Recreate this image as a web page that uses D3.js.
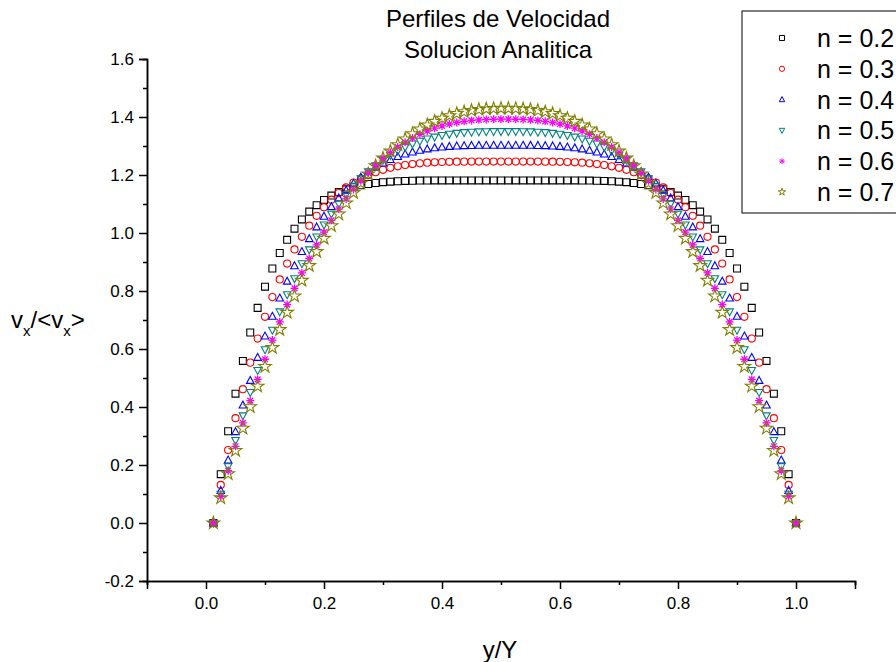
<!DOCTYPE html>
<html>
<head>
<meta charset="utf-8">
<script src="https://cdn.jsdelivr.net/npm/d3@7"></script>
<style>
  body { margin: 0; background: #fff; }
  text { font-family: Arial, "Liberation Sans", sans-serif; fill: #000; }
</style>
</head>
<body>
<div id="chart"></div>
<script>
// x positions (y/Y)
var xVals = [0.0125, 0.025, 0.0375, 0.05, 0.0625, 0.075, 0.0875, 0.1, 0.1125, 0.125,
    0.1375, 0.15, 0.1625, 0.175, 0.1875, 0.2, 0.2125, 0.225, 0.2375, 0.25,
    0.2625, 0.275, 0.2875, 0.3, 0.3125, 0.325, 0.3375, 0.35, 0.3625, 0.375,
    0.3875, 0.4, 0.4125, 0.425, 0.4375, 0.45, 0.4625, 0.475, 0.4875, 0.5,
    0.5125, 0.525, 0.5375, 0.55, 0.5625, 0.575, 0.5875, 0.6, 0.6125, 0.625,
    0.6375, 0.65, 0.6625, 0.675, 0.6875, 0.7, 0.7125, 0.725, 0.7375, 0.75,
    0.7625, 0.775, 0.7875, 0.8, 0.8125, 0.825, 0.8375, 0.85, 0.8625, 0.875,
    0.8875, 0.9, 0.9125, 0.925, 0.9375, 0.95, 0.9625, 0.975, 0.9875, 1.0];

// vx/<vx> for each n
var v02 = [0, 0.1685, 0.3164, 0.4459, 0.5589, 0.6569, 0.7418, 0.8149, 0.8776, 0.9310,
    0.9764, 1.0148, 1.0469, 1.0737, 1.0959, 1.1142, 1.1290, 1.1411, 1.1507, 1.1584,
    1.1643, 1.1690, 1.1725, 1.1752, 1.1771, 1.1785, 1.1796, 1.1802, 1.1807, 1.1810,
    1.1812, 1.1813, 1.1814, 1.1814, 1.1814, 1.1814, 1.1814, 1.1814, 1.1814, 1.1814,
    1.1814, 1.1814, 1.1814, 1.1814, 1.1814, 1.1814, 1.1814, 1.1814, 1.1813, 1.1812,
    1.1810, 1.1807, 1.1802, 1.1796, 1.1785, 1.1771, 1.1752, 1.1725, 1.1690, 1.1643,
    1.1584, 1.1507, 1.1411, 1.1290, 1.1142, 1.0959, 1.0737, 1.0469, 1.0148, 0.9764,
    0.9310, 0.8776, 0.8149, 0.7418, 0.6569, 0.5589, 0.4459, 0.3164, 0.1685, 0];
var v03 = [0, 0.1311, 0.2513, 0.3613, 0.4616, 0.5530, 0.6360, 0.7111, 0.7789, 0.8399,
    0.8945, 0.9434, 0.9868, 1.0253, 1.0593, 1.0890, 1.1150, 1.1376, 1.1570, 1.1737,
    1.1878, 1.1998, 1.2098, 1.2180, 1.2247, 1.2301, 1.2345, 1.2378, 1.2404, 1.2424,
    1.2438, 1.2448, 1.2454, 1.2458, 1.2461, 1.2462, 1.2463, 1.2463, 1.2463, 1.2463,
    1.2463, 1.2463, 1.2463, 1.2463, 1.2462, 1.2461, 1.2458, 1.2454, 1.2448, 1.2438,
    1.2424, 1.2404, 1.2378, 1.2345, 1.2301, 1.2247, 1.2180, 1.2098, 1.1998, 1.1878,
    1.1737, 1.1570, 1.1376, 1.1150, 1.0890, 1.0593, 1.0253, 0.9868, 0.9434, 0.8945,
    0.8399, 0.7789, 0.7111, 0.6360, 0.5530, 0.4616, 0.3613, 0.2513, 0.1311, 0];
var v04 = [0, 0.1118, 0.2165, 0.3145, 0.4060, 0.4912, 0.5706, 0.6442, 0.7123, 0.7753,
    0.8333, 0.8866, 0.9354, 0.9800, 1.0205, 1.0573, 1.0905, 1.1204, 1.1471, 1.1709,
    1.1919, 1.2105, 1.2266, 1.2407, 1.2527, 1.2630, 1.2716, 1.2788, 1.2847, 1.2894,
    1.2931, 1.2960, 1.2981, 1.2996, 1.3007, 1.3013, 1.3017, 1.3019, 1.3020, 1.3020,
    1.3020, 1.3020, 1.3019, 1.3017, 1.3013, 1.3007, 1.2996, 1.2981, 1.2960, 1.2931,
    1.2894, 1.2847, 1.2788, 1.2716, 1.2630, 1.2527, 1.2407, 1.2266, 1.2105, 1.1919,
    1.1709, 1.1471, 1.1204, 1.0905, 1.0573, 1.0205, 0.9800, 0.9354, 0.8866, 0.8333,
    0.7753, 0.7123, 0.6442, 0.5706, 0.4912, 0.4060, 0.3145, 0.2165, 0.1118, 0];
var v05 = [0, 0.1000, 0.1949, 0.2849, 0.3701, 0.4506, 0.5266, 0.5981, 0.6654, 0.7286,
    0.7878, 0.8431, 0.8946, 0.9425, 0.9869, 1.0280, 1.0659, 1.1007, 1.1325, 1.1615,
    1.1878, 1.2115, 1.2328, 1.2518, 1.2686, 1.2834, 1.2963, 1.3074, 1.3169, 1.3248,
    1.3314, 1.3368, 1.3410, 1.3442, 1.3466, 1.3482, 1.3493, 1.3499, 1.3501, 1.3502,
    1.3502, 1.3501, 1.3499, 1.3493, 1.3482, 1.3466, 1.3442, 1.3410, 1.3368, 1.3314,
    1.3248, 1.3169, 1.3074, 1.2963, 1.2834, 1.2686, 1.2518, 1.2328, 1.2115, 1.1878,
    1.1615, 1.1325, 1.1007, 1.0659, 1.0280, 0.9869, 0.9425, 0.8946, 0.8431, 0.7878,
    0.7286, 0.6654, 0.5981, 0.5266, 0.4506, 0.3701, 0.2849, 0.1949, 0.1000, 0];
var v06 = [0, 0.0920, 0.1802, 0.2645, 0.3450, 0.4218, 0.4951, 0.5647, 0.6309, 0.6937,
    0.7531, 0.8093, 0.8623, 0.9121, 0.9589, 1.0028, 1.0438, 1.0820, 1.1174, 1.1502,
    1.1804, 1.2082, 1.2336, 1.2566, 1.2775, 1.2962, 1.3129, 1.3277, 1.3406, 1.3517,
    1.3613, 1.3693, 1.3758, 1.3811, 1.3852, 1.3882, 1.3902, 1.3915, 1.3922, 1.3924,
    1.3924, 1.3922, 1.3915, 1.3902, 1.3882, 1.3852, 1.3811, 1.3758, 1.3693, 1.3613,
    1.3517, 1.3406, 1.3277, 1.3129, 1.2962, 1.2775, 1.2566, 1.2336, 1.2082, 1.1804,
    1.1502, 1.1174, 1.0820, 1.0438, 1.0028, 0.9589, 0.9121, 0.8623, 0.8093, 0.7531,
    0.6937, 0.6309, 0.5647, 0.4951, 0.4218, 0.3450, 0.2645, 0.1802, 0.0920, 0];
var v07 = [0, 0.0863, 0.1695, 0.2496, 0.3265, 0.4005, 0.4714, 0.5394, 0.6045, 0.6667,
    0.7260, 0.7825, 0.8363, 0.8874, 0.9357, 0.9814, 1.0246, 1.0652, 1.1033, 1.1389,
    1.1722, 1.2031, 1.2317, 1.2580, 1.2822, 1.3043, 1.3242, 1.3422, 1.3582, 1.3724,
    1.3847, 1.3954, 1.4043, 1.4118, 1.4177, 1.4223, 1.4257, 1.4279, 1.4291, 1.4296,
    1.4296, 1.4291, 1.4279, 1.4257, 1.4223, 1.4177, 1.4118, 1.4043, 1.3954, 1.3847,
    1.3724, 1.3582, 1.3422, 1.3242, 1.3043, 1.2822, 1.2580, 1.2317, 1.2031, 1.1722,
    1.1389, 1.1033, 1.0652, 1.0246, 0.9814, 0.9357, 0.8874, 0.8363, 0.7825, 0.7260,
    0.6667, 0.6045, 0.5394, 0.4714, 0.4005, 0.3265, 0.2496, 0.1695, 0.0863, 0];

var seriesNames = ["n = 0.2", "n = 0.3", "n = 0.4", "n = 0.5", "n = 0.6", "n = 0.7"];
var xTicks = [0.0, 0.2, 0.4, 0.6, 0.8, 1.0];
var yTicks = [-0.2, 0.0, 0.2, 0.4, 0.6, 0.8, 1.0, 1.2, 1.4, 1.6];

var seriesVals = [v02, v03, v04, v05, v06, v07];
var colors = ["#000000", "#ff0000", "#0000ff", "#008080", "#ff00ff", "#808000"];
var shapes = ["square", "circle", "triUp", "triDown", "asterisk", "star"];

var width = 896, height = 662;

var svg = d3.select("#chart").append("svg")
    .attr("width", width)
    .attr("height", height);

var x = d3.scaleLinear().domain([-0.1, 1.1]).range([147, 855]);
var y = d3.scaleLinear().domain([-0.2, 1.6]).range([581, 59]);

//marker path for a shape of size s (px)
function markerPath(shape, s) {
    var h = s / 2;
    if (shape == "square") return d3.symbol(d3.symbolSquare, s * s * 0.85)();
    if (shape == "circle") return d3.symbol(d3.symbolCircle, Math.PI * h * h * 0.9)();
    if (shape == "triUp") return "M0," + (-h * 1.1) + "L" + h + "," + (h * 0.75) + "L" + (-h) + "," + (h * 0.75) + "Z";
    if (shape == "triDown") return "M0," + (h * 1.1) + "L" + h + "," + (-h * 0.75) + "L" + (-h) + "," + (-h * 0.75) + "Z";
    if (shape == "asterisk") {
        var d = h * 0.72;
        return "M0," + (-h) + "L0," + h + "M" + (-h) + ",0L" + h + ",0" +
            "M" + (-d) + "," + (-d) + "L" + d + "," + d + "M" + (-d) + "," + d + "L" + d + "," + (-d);
    }
    return d3.symbol(d3.symbolStar, s * s * 0.55)();
}

// axes
var yAxis = d3.axisLeft(y)
    .tickValues(yTicks)
    .tickSize(8)
    .tickPadding(5)
    .tickFormat(function (d) { return d.toFixed(1); });
var yMinor = d3.axisLeft(y)
    .tickValues(d3.range(-0.1, 1.6, 0.2))
    .tickSize(4)
    .tickFormat("");
var xAxis = d3.axisBottom(x)
    .tickValues(xTicks)
    .tickSize(8)
    .tickPadding(8)
    .tickFormat(function (d) { return d.toFixed(1); });
var xMinor = d3.axisBottom(x)
    .tickValues([-0.1, 0.1, 0.3, 0.5, 0.7, 0.9, 1.1])
    .tickSize(4)
    .tickFormat("");

[yAxis, yMinor].forEach(function (a) {
    svg.append("g")
        .attr("class", "y axis")
        .attr("transform", "translate(147,0)")
        .call(a);
});
[xAxis, xMinor].forEach(function (a) {
    svg.append("g")
        .attr("class", "x axis")
        .attr("transform", "translate(0,581)")
        .call(a);
});
svg.selectAll(".axis path, .axis line")
    .attr("stroke", "#000")
    .attr("stroke-width", 1.5);
svg.selectAll(".axis text")
    .style("font-size", "17px")
    .style("font-family", "Arial, 'Liberation Sans', sans-serif")
    .attr("fill", "#000");

// data markers, n = 0.2 drawn first
seriesVals.forEach(function (vals, k) {
    var pts = xVals.map(function (xv, i) { return {x: xv, v: vals[i]}; });
    svg.append("g")
        .attr("class", "series s" + k)
        .selectAll("path")
        .data(pts)
        .enter()
        .append("path")
        .attr("transform", function (d) { return "translate(" + x(d.x) + "," + y(d.v) + ")"; })
        .attr("d", markerPath(shapes[k], k == 5 ? 9.5 : (k == 4 ? 8 : 7.5)))
        .attr("fill", "none")
        .attr("stroke", colors[k])
        .attr("stroke-width", k == 4 ? 1.3 : 1.1);
});

// title
svg.append("text")
    .attr("x", 498).attr("y", 27)
    .attr("text-anchor", "middle")
    .style("font-size", "24px")
    .text("Perfiles de Velocidad");
svg.append("text")
    .attr("x", 498).attr("y", 58)
    .attr("text-anchor", "middle")
    .style("font-size", "24px")
    .text("Solucion Analitica");

// axis titles
svg.append("text")
    .attr("x", 500).attr("y", 658)
    .attr("text-anchor", "middle")
    .style("font-size", "24px")
    .text("y/Y");

var yl = svg.append("text")
    .attr("x", 11).attr("y", 328)
    .style("font-size", "24px");
yl.append("tspan").text("v");
yl.append("tspan").attr("dy", 8).style("font-size", "15px").text("x");
yl.append("tspan").attr("dy", -8).text("/<v");
yl.append("tspan").attr("dy", 8).style("font-size", "15px").text("x");
yl.append("tspan").attr("dy", -8).text(">");

// legend
var legend = svg.append("g").attr("class", "legend");
legend.append("rect")
    .attr("x", 742).attr("y", 11)
    .attr("width", 170).attr("height", 202)
    .attr("fill", "#fff")
    .attr("stroke", "#000")
    .attr("stroke-width", 1);

seriesNames.forEach(function (name, k) {
    var cy = 38 + k * 30.8;
    legend.append("path")
        .attr("transform", "translate(782," + cy + ")")
        .attr("d", markerPath(shapes[k], 5.5))
        .attr("fill", "none")
        .attr("stroke", colors[k])
        .attr("stroke-width", 1);
    legend.append("text")
        .attr("x", 817).attr("y", cy + 9)
        .style("font-size", "25px")
        .text(name);
});
</script>
</body>
</html>
